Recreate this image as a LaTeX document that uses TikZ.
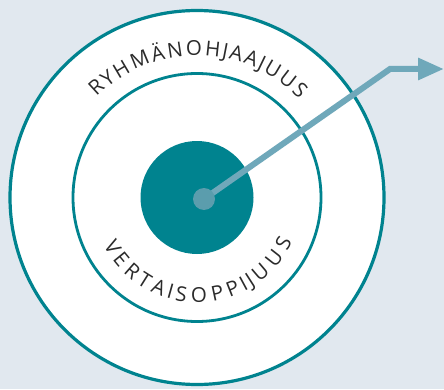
\documentclass[tikz,border=0pt]{standalone}
\usepackage{fontspec}
\setsansfont{Open Sans}
\usetikzlibrary{positioning,arrows.meta,decorations.text}
\definecolor{ringteal}{HTML}{00838F}
\definecolor{pointerblue}{HTML}{6FA8BA}
\definecolor{dotblue}{HTML}{5B9DAD}
\definecolor{paneblue}{HTML}{E1E8EF}
\definecolor{labelgray}{HTML}{2B2B2B}
\newfontfamily\ringfont{Open Sans}[Scale=2.05]

\begin{document}
\begin{tikzpicture}[
    x=1pt, y=1pt,
    ring/.style={circle, draw=ringteal, line width=3.2pt, fill=white, inner sep=0pt},
    arclabel/.style={decorate, decoration={text effects along path, text={#1},
        text effects/.cd, text along path, fit text to path,
        every character/.style={font=\ringfont, text=labelgray}}},
    pointer/.style={draw=pointerblue, line width=6pt, miter limit=10,
        -{Triangle[length=26pt, width=21pt]}}
]
\fill[paneblue] (0,0) rectangle (444,389);
\useasboundingbox (0,0) rectangle (444,389);

\node[ring, minimum size=374pt] (outer) at (197,191.5) {};
\node[ring, minimum size=248pt, line width=2.8pt] (inner) at (outer.center) {};
\node[circle, fill=ringteal, minimum size=113pt, inner sep=0pt] (core) at (outer.center) {};

% labels along the rings
\path[arclabel=RYHMÄNOHJAAJUUS] ([shift={(135:142)}]outer.center) arc[start angle=135, end angle=44, radius=142];
\path[arclabel=VERTAISOPPIJUUS] ([shift={(207:105)}]outer.center) arc[start angle=207, end angle=335, radius=105];

\coordinate (hub) at (204,190);
\coordinate (bend) at (390,320);
\coordinate (tip) at (444,320);
\draw[pointer] (hub) -- (bend) -- (tip);
\node[circle, fill=dotblue, minimum size=22pt, inner sep=0pt] (dot) at (hub) {};
\end{tikzpicture}
\end{document}
